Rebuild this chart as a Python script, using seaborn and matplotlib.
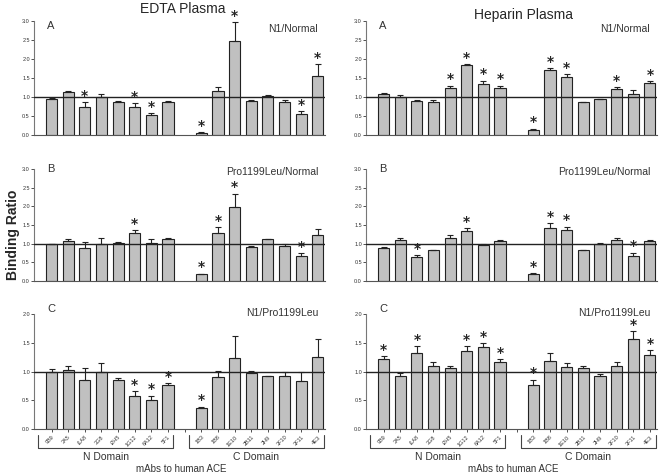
import numpy as np
import pandas as pd
import seaborn as sns
import matplotlib.pyplot as plt

# mAbs to human ACE
n_domain = ["9B9", "3A5", "i1A8", "3G8", "i2H5", "1G12", "6A12", "5F1"]
c_domain = ["1B3", "1B8", "1E10", "2B11", "2H9", "3F10", "3F11", "4E3"]
mabs = n_domain + c_domain
slots = n_domain + [" "] + c_domain  # empty slot between the two domains

# EDTA plasma
edta_a = [0.96, 1.12, 0.74, 1.00, 0.88, 0.74, 0.52, 0.87, 0.06, 1.17, 2.48, 0.90, 1.03, 0.87, 0.54, 1.54]
edta_a_se = [0.02, 0.03, 0.13, 0.08, 0.01, 0.10, 0.05, 0.03, 0.01, 0.10, 0.50, 0.01, 0.01, 0.06, 0.09, 0.32]
edta_a_sig = [0, 0, 1, 0, 0, 1, 1, 0, 1, 0, 1, 0, 0, 0, 1, 1]

edta_b = [0.98, 1.08, 0.88, 1.00, 1.03, 1.28, 1.03, 1.12, 0.18, 1.30, 1.98, 0.90, 1.13, 0.94, 0.67, 1.22]
edta_b_se = [0.02, 0.04, 0.17, 0.15, 0.01, 0.08, 0.10, 0.03, 0.02, 0.14, 0.36, 0.04, 0.00, 0.04, 0.07, 0.18]
edta_b_sig = [0, 0, 0, 0, 0, 1, 0, 0, 1, 1, 1, 0, 0, 0, 1, 0]

edta_c = [1.00, 1.02, 0.85, 1.00, 0.85, 0.58, 0.51, 0.77, 0.37, 0.90, 1.24, 0.98, 0.92, 0.92, 0.83, 1.26]
edta_c_se = [0.05, 0.07, 0.21, 0.14, 0.03, 0.08, 0.07, 0.03, 0.02, 0.11, 0.37, 0.03, 0.01, 0.07, 0.16, 0.31]
edta_c_sig = [0, 0, 0, 0, 0, 1, 1, 1, 1, 0, 0, 0, 0, 0, 0, 0]

# Heparin plasma
hep_a = [1.09, 1.00, 0.89, 0.86, 1.23, 1.83, 1.34, 1.23, 0.14, 1.71, 1.53, 0.86, 0.94, 1.22, 1.08, 1.38]
hep_a_se = [0.01, 0.04, 0.04, 0.05, 0.07, 0.04, 0.09, 0.07, 0.03, 0.04, 0.07, 0.02, 0.01, 0.03, 0.10, 0.04]
hep_a_sig = [0, 0, 0, 0, 1, 1, 1, 1, 1, 1, 1, 0, 0, 1, 0, 1]

hep_b = [0.89, 1.10, 0.65, 0.82, 1.16, 1.34, 0.96, 1.06, 0.20, 1.43, 1.36, 0.82, 1.00, 1.09, 0.68, 1.06]
hep_b_se = [0.03, 0.04, 0.05, 0.02, 0.06, 0.08, 0.02, 0.03, 0.02, 0.13, 0.10, 0.02, 0.03, 0.05, 0.08, 0.03]
hep_b_sig = [0, 0, 1, 0, 0, 1, 0, 0, 1, 1, 1, 0, 0, 0, 1, 0]

hep_c = [1.22, 0.92, 1.33, 1.09, 1.06, 1.36, 1.43, 1.17, 0.76, 1.19, 1.07, 1.06, 0.93, 1.10, 1.57, 1.28]
hep_c_se = [0.05, 0.05, 0.11, 0.07, 0.04, 0.08, 0.07, 0.04, 0.10, 0.14, 0.08, 0.04, 0.03, 0.06, 0.13, 0.09]
hep_c_sig = [1, 0, 1, 0, 0, 1, 1, 1, 1, 0, 0, 0, 0, 0, 1, 1]

sns.set_style("ticks")
plt.rcParams['font.family'] = ['Liberation Sans', 'DejaVu Sans']

fig = plt.figure(figsize=(6.62, 4.76), dpi=100)

lefts = [0.0514, 0.553]
width = 0.44
rows = [(0.7164, 0.2395), (0.4097, 0.235), (0.0987, 0.2416)]
# vertical place (axes fraction) of the panel letter / comparison label per row
label_y = [0.95, 0.99, 1.03]

panels = [
    (0, 0, edta_a, edta_a_se, edta_a_sig, "A", "N1/Normal", 3.0),
    (1, 0, edta_b, edta_b_se, edta_b_sig, "B", "Pro1199Leu/Normal", 3.0),
    (2, 0, edta_c, edta_c_se, edta_c_sig, "C", "N1/Pro1199Leu", 2.0),
    (0, 1, hep_a, hep_a_se, hep_a_sig, "A", "N1/Normal", 3.0),
    (1, 1, hep_b, hep_b_se, hep_b_sig, "B", "Pro1199Leu/Normal", 3.0),
    (2, 1, hep_c, hep_c_se, hep_c_sig, "C", "N1/Pro1199Leu", 2.0),
]

pos = [slots.index(m) for m in mabs]

for r, c, vals, se, sig, letter, label, ymax in panels:
    ax = fig.add_axes([lefts[c], rows[r][0], width, rows[r][1]])
    df = pd.DataFrame({"mab": mabs, "ratio": vals})
    sns.barplot(data=df, x="mab", y="ratio", order=slots, color="#c0c0c0",
                saturation=1, edgecolor="#222222", linewidth=0.8, width=0.67,
                ax=ax)
    # one-sided (upper) error bars
    ax.errorbar(pos, vals, yerr=[np.zeros(len(vals)), se], fmt="none",
                ecolor="#222222", elinewidth=0.8, capsize=2.2, capthick=0.8,
                zorder=3)
    ax.axhline(1.0, color="#222222", lw=1.0, zorder=4)
    for p, v, e, s in zip(pos, vals, se, sig):
        if s:
            ax.annotate("*", (p, v + e), xytext=(0, 4.5), textcoords="offset points",
                        ha="center", va="center", fontsize=10, fontweight="bold",
                        family="DejaVu Sans")

    ax.set_xlim(-1.05, 16.45)
    ax.set_ylim(0, ymax)
    ax.set_yticks(np.arange(0, ymax + 0.01, 0.5))
    ax.set_yticklabels([f"{t:.1f}" for t in np.arange(0, ymax + 0.01, 0.5)])
    ax.tick_params(axis="y", labelsize=4, length=2, width=0.6, pad=1, colors="#333333")
    ax.set_xlabel("")
    ax.set_ylabel("")
    sns.despine(ax=ax)
    ax.spines["left"].set_color("#777777")
    ax.spines["bottom"].set_color("#555555")
    ax.spines["left"].set_linewidth(0.8)
    ax.spines["bottom"].set_linewidth(0.8)

    ax.text(0.045, label_y[r] + 0.01, letter, transform=ax.transAxes, fontsize=8,
            va="center", color="#333333")
    ax.text(0.975, label_y[r] - 0.02, label, transform=ax.transAxes, fontsize=7.5,
            ha="right", va="center", color="#333333")

    if r < 2:
        ax.tick_params(axis="x", bottom=False, labelbottom=False)
    else:
        ax.set_xticks(range(len(slots)))
        ax.set_xticklabels(slots, rotation=45, ha="right", rotation_mode="anchor", fontsize=4)
        ax.tick_params(axis="x", length=2, width=0.6, pad=2, colors="#333333")
        tr = ax.get_xaxis_transform()
        for x0, x1, name in [(-0.8, 7.3, "N Domain"), (8.25, 16.35, "C Domain")]:
            ax.plot([x0, x0, x1, x1], [-0.055, -0.165, -0.165, -0.055], transform=tr,
                    color="#444444", lw=0.8, clip_on=False)
            ax.text((x0 + x1) / 2, -0.24, name, transform=tr, ha="center", va="center",
                    fontsize=7.5, color="#333333")
        ax.text(7.8, -0.35, "mAbs to human ACE", transform=tr, ha="center", va="center",
                fontsize=7, color="#333333")

fig.text(183 / 662, 1 - 9 / 476, "EDTA Plasma", ha="center", va="center", fontsize=10)
fig.text(523 / 662, 1 - 15 / 476, "Heparin Plasma", ha="center", va="center", fontsize=10)
fig.text(13 / 662, 1 - 235 / 476, "Binding Ratio", rotation=90, ha="center", va="center",
         fontsize=10, fontweight="bold")

fig.savefig("out.png", dpi=100)
